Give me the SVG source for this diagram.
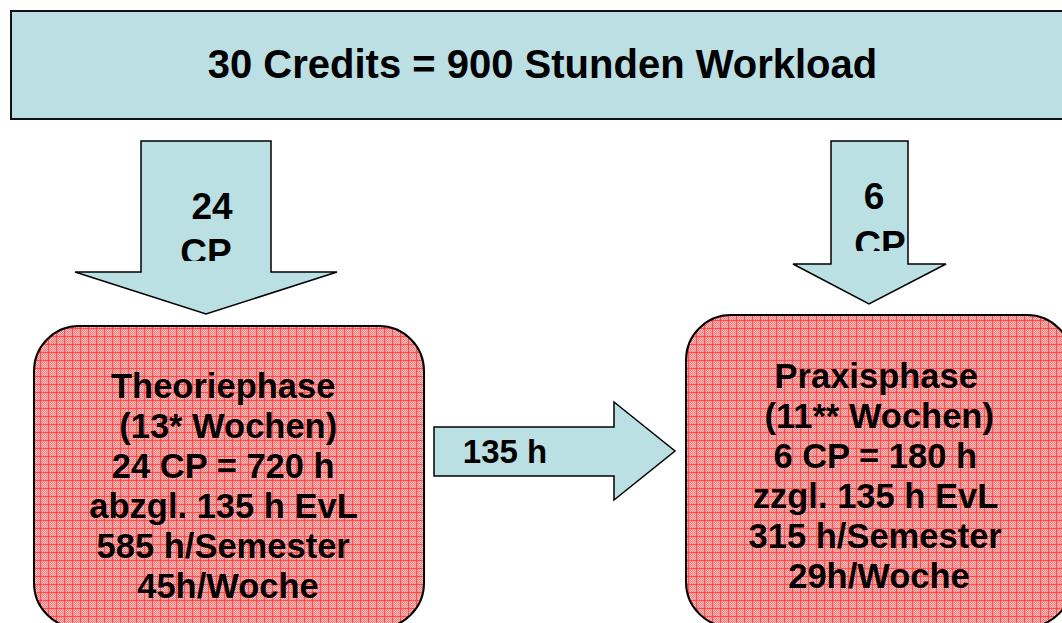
<svg xmlns="http://www.w3.org/2000/svg" width="1062" height="623" viewBox="0 0 1062 623">
<style>
.t{font-family:"Liberation Sans",Arial,sans-serif;font-weight:bold;fill:#000;text-anchor:middle}
.ban{fill:#BBDFE3;stroke:#111;stroke-width:2}
.arr{fill:#BBE0E3;stroke:#000;stroke-width:1.5;stroke-linejoin:miter}
.box{fill:url(#grid);stroke:#000;stroke-width:2}
</style>
<defs>
<pattern id="chk" width="2" height="2" patternUnits="userSpaceOnUse">
<rect width="2" height="2" fill="#FFCACA"/>
<rect width="1" height="1" fill="#FF7070"/>
<rect x="1" y="1" width="1" height="1" fill="#FF7070"/>
</pattern>
<pattern id="grid" width="8" height="8" patternUnits="userSpaceOnUse">
<rect width="8" height="8" fill="url(#chk)"/>
<rect width="8" height="1" fill="#FF4A4A"/>
<rect width="1" height="8" fill="#FF4A4A"/>
</pattern>
<clipPath id="c1"><rect x="141" y="141" width="131" height="120"/></clipPath>
<clipPath id="c2"><rect x="820" y="141" width="100" height="110"/></clipPath>
</defs>
<g id="banner">
<rect class="ban" x="11" y="11" width="1060" height="108"/>
<text class="t" x="542.5" y="78" font-size="40">30 Credits = 900 Stunden Workload</text>
</g>
<g id="connectors">
<g id="arrow-24cp">
<polygon class="arr" points="141,141 271,141 271,272 337,272 206,314 75,272 141,272"/>
<g clip-path="url(#c1)">
<text class="t" x="212" y="219" font-size="37">24</text>
<text class="t" x="206" y="265" font-size="37">CP</text>
</g>
</g>
<g id="arrow-6cp">
<polygon class="arr" points="831,141 908,141 908,264 946,264 869,304 793,264 831,264"/>
<g clip-path="url(#c2)">
<text class="t" x="874" y="209" font-size="37">6</text>
<text class="t" x="880" y="257" font-size="37">CP</text>
</g>
</g>
<g id="arrow-135h">
<polygon class="arr" points="434,427 614,427 614,402 675,451 614,500 614,476 434,476"/>
<text class="t" x="505" y="463" font-size="33">135 h</text>
</g>
</g>
<g id="theoriephase">
<rect class="box" x="34" y="326" width="390" height="302" rx="45" ry="45"/>
<text class="t" font-size="34.5">
<tspan x="228" y="398">Theoriephase</tspan>
<tspan x="233" y="438">(13* Wochen)</tspan>
<tspan x="228" y="478">24 CP = 720 h</tspan>
<tspan x="228" y="518">abzgl. 135 h EvL</tspan>
<tspan x="228" y="558">585 h/Semester</tspan>
<tspan x="228" y="598">45h/Woche</tspan>
</text>
</g>
<g id="praxisphase">
<rect class="box" x="686" y="315" width="386" height="312" rx="45" ry="45"/>
<text class="t" font-size="34.5">
<tspan x="881" y="388">Praxisphase</tspan>
<tspan x="884" y="428">(11** Wochen)</tspan>
<tspan x="880" y="468">6 CP = 180 h</tspan>
<tspan x="880" y="508">zzgl. 135 h EvL</tspan>
<tspan x="880" y="548">315 h/Semester</tspan>
<tspan x="879" y="588">29h/Woche</tspan>
</text>
</g>
</svg>
